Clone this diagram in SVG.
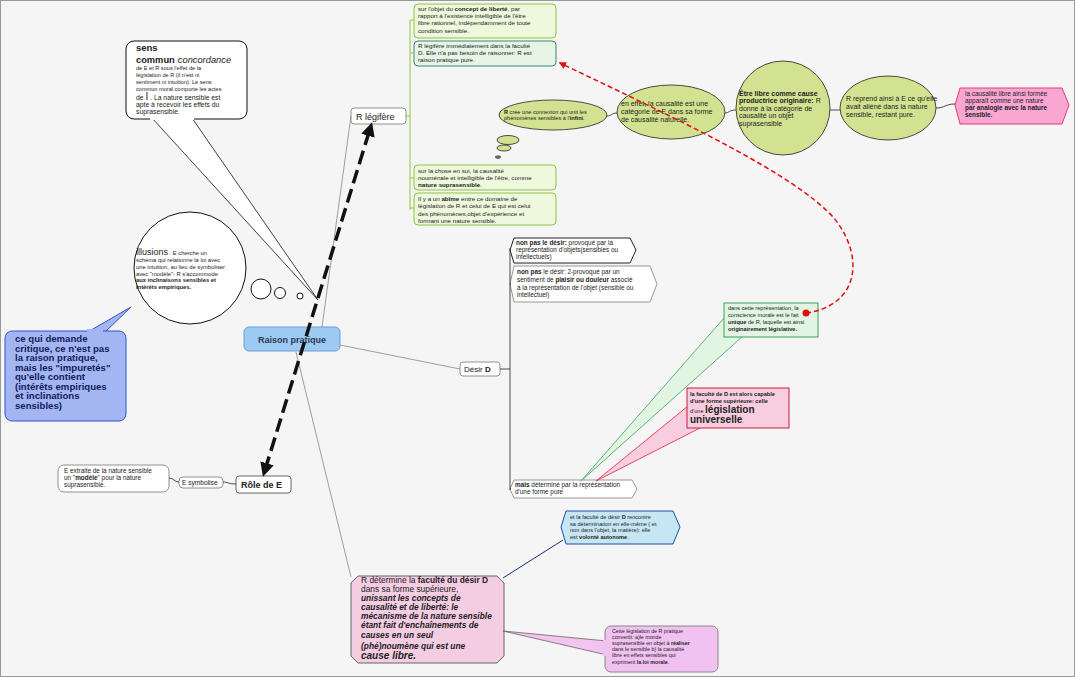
<svg xmlns="http://www.w3.org/2000/svg" width="1075" height="677" viewBox="0 0 1075 677">
<defs>
<style>
text{font-family:"Liberation Sans",Arial,sans-serif;fill:#222}
.b{font-weight:bold}
.i{font-style:italic}
.gbox{fill:#eef8dc;stroke:#8cc63f;stroke-width:1}
.ell{fill:#d3e290;stroke:#222;stroke-width:0.8}
.node{fill:#fff;stroke:#777;stroke-width:0.8}
.ln{fill:none;stroke:#888;stroke-width:0.8}
.blk{fill:none;stroke:#222;stroke-width:0.8}
</style>
<marker id="ah" viewBox="0 0 10 10" refX="5" refY="5" markerWidth="4" markerHeight="4" orient="auto-start-reverse">
<path d="M0,0 L10,5 L0,10 z" fill="#111"/>
</marker>
<marker id="rh" viewBox="0 0 10 10" refX="8" refY="5" markerWidth="5" markerHeight="5" orient="auto">
<path d="M0,0 L10,5 L0,10 z" fill="#e01010"/>
</marker>
</defs>
<rect x="0" y="0" width="1075" height="677" fill="#f5f5f5"/>
<rect x="0.5" y="0.5" width="1074" height="676" fill="none" stroke="#999"/>

<g id="raison-pratique">
<rect x="244" y="327" width="96" height="24" rx="5" fill="#9ccaf2" stroke="#6f9fd0"/>
<text x="292" y="343" text-anchor="middle" font-size="9" class="b" style="fill:#2a3a55">Raison pratique</text>
</g>

<g id="r-legifere">
<rect class="node" x="351" y="108" width="55" height="16" rx="3"/>
<text x="356" y="120" font-size="9">R légifère</text>
</g>

<g id="g-box1">
<rect class="gbox" x="414" y="4" width="142" height="34" rx="4"/>
<text font-size="6.2"><tspan x="418" y="11">sur l'objet du <tspan class="b">concept de liberté</tspan>, par</tspan><tspan x="418" y="18">rapport à l'existence intelligible de l'être</tspan><tspan x="418" y="25">libre rationnel, indépendamment de toute</tspan><tspan x="418" y="33">condition sensible.</tspan></text>
</g>
<g id="g-box2">
<rect x="414" y="41" width="142" height="25" rx="4" fill="#e6f5e6" stroke="#3a8a6a"/>
<text font-size="6.2"><tspan x="418" y="48">R légifère immédiatement dans la faculté</tspan><tspan x="418" y="55">D. Elle n'a pas besoin de raisonner: R est</tspan><tspan x="418" y="62">raison pratique pure.</tspan></text>
</g>
<g id="g-box3">
<rect class="gbox" x="414" y="165" width="142" height="25" rx="4"/>
<text font-size="6.2"><tspan x="418" y="173">sur la chose en soi, la causalité</tspan><tspan x="418" y="180">nouménale et intelligible de l'être, comme</tspan><tspan x="418" y="187"><tspan class="b">nature suprasensible</tspan>.</tspan></text>
</g>
<g id="g-box4">
<rect class="gbox" x="414" y="193" width="142" height="32" rx="4"/>
<text font-size="6.2"><tspan x="418" y="201">Il y a un <tspan class="b">abîme</tspan> entre ce domaine de</tspan><tspan x="418" y="208">législation de R et celui de E qui est celui</tspan><tspan x="418" y="216">des phénomènes,objet d'expérience et</tspan><tspan x="418" y="223">formant une nature sensible.</tspan></text>
</g>

<g id="ell1">
<ellipse class="ell" cx="553" cy="115" rx="54" ry="15"/>
<ellipse class="ell" cx="508" cy="140" rx="11" ry="4.5"/>
<ellipse class="ell" cx="504" cy="148" rx="7" ry="3"/>
<ellipse cx="498" cy="157" rx="3" ry="1.8" fill="#666"/>
<text font-size="5.6"><tspan x="504" y="114"><tspan class="b">R</tspan> crée une connexion qui unit les</tspan><tspan x="504" y="120">phénomènes sensibles à l'<tspan class="b">infini</tspan>.</tspan></text>
</g>
<g id="ell2">
<ellipse class="ell" cx="671" cy="112" rx="54" ry="27"/>
<text font-size="7"><tspan x="621" y="106">en effet, la causalité est une</tspan><tspan x="621" y="114">catégorie de E dans sa forme</tspan><tspan x="621" y="122">de causalité naturelle.</tspan></text>
</g>
<g id="ell3">
<ellipse class="ell" cx="783" cy="108" rx="47" ry="47"/>
<text font-size="7"><tspan x="739" y="96" class="b">Être libre comme cause</tspan><tspan x="739" y="103"><tspan class="b">productrice originaire:</tspan> R</tspan><tspan x="739" y="111">donne à la catégorie de</tspan><tspan x="739" y="118">causalité un objet</tspan><tspan x="739" y="126">suprasensible</tspan></text>
</g>
<g id="ell4">
<ellipse class="ell" cx="888" cy="108" rx="48" ry="32"/>
<text font-size="7"><tspan x="846" y="101">R reprend ainsi à E ce qu'elle</tspan><tspan x="846" y="109">avait aliéné dans la nature</tspan><tspan x="846" y="117">sensible, restant pure.</tspan></text>
</g>
<g id="pink-hex">
<polygon points="960,88 1062,88 1069,105 1062,124 960,124 955,105" fill="#f9a6d2" stroke="#e23c7a"/>
<text font-size="6.4"><tspan x="965" y="96">la causalité libre ainsi formée</tspan><tspan x="965" y="103">apparaît comme une nature</tspan><tspan x="965" y="110" class="b">par analogie avec la nature</tspan><tspan x="965" y="117" class="b">sensible.</tspan></text>
</g>

<g id="sens-commun">
<polygon points="152,118 318,300 192,118" fill="#fff" stroke="#111" stroke-width="0.8"/>
<rect x="126" y="41" width="121" height="78" rx="8" fill="#fff" stroke="#111"/>
<rect x="150" y="116" width="44" height="4" fill="#fff"/>
<text x="136" y="51" font-size="9.5" class="b">sens</text>
<text x="136" y="63" font-size="9.3"><tspan class="b">commun</tspan><tspan font-size="5.5"> :</tspan><tspan class="i">concordance</tspan></text>
<text font-size="5.6"><tspan x="136" y="70">de E et R sous l'effet de la</tspan><tspan x="136" y="77">législation de R (il n'est ni</tspan><tspan x="136" y="84">sentiment ni intuition). Le sens</tspan><tspan x="136" y="91">commun moral comporte les actes</tspan></text>
<text x="136" y="100" font-size="6.8">de <tspan font-size="10">I</tspan> . La nature sensible est</text>
<text font-size="6.8"><tspan x="136" y="107">apte à recevoir les effets du</tspan><tspan x="136" y="114">suprasensible.</tspan></text>
</g>

<g id="illusions">
<circle cx="190" cy="268" r="56" fill="#fff" stroke="#111"/>
<circle cx="261" cy="289" r="10" fill="#fff" stroke="#111"/>
<circle cx="280" cy="293" r="5.5" fill="#fff" stroke="#111"/>
<circle cx="300" cy="296" r="3" fill="#fff" stroke="#111"/>
<text x="136" y="255" font-size="9">illusions<tspan font-size="5.8"> : E cherche un</tspan></text>
<text font-size="5.8"><tspan x="136" y="262">schéma qui relationne la loi avec</tspan><tspan x="136" y="269">une intuition, au lieu de symboliser</tspan><tspan x="136" y="276">avec "modèle"- R s'accommode</tspan><tspan x="136" y="282" class="b">aux inclinaisons sensibles et</tspan><tspan x="136" y="289" class="b">intérêts empiriques.</tspan></text>
</g>

<g id="blue-callout">
<polygon points="86,333 131,307 104,333" fill="#a3b5f2" stroke="#3352c8"/>
<rect x="5" y="331" width="121" height="90" rx="7" fill="#a3b5f2" stroke="#3352c8"/>
<rect x="87" y="329" width="16" height="4" fill="#a3b5f2"/>
<text font-size="9.6" class="b" style="fill:#14205a"><tspan x="15" y="342">ce qui demande</tspan><tspan x="15" y="351.5">critique, ce n'est pas</tspan><tspan x="15" y="361">la raison pratique,</tspan><tspan x="15" y="370.5">mais les "impuretés"</tspan><tspan x="15" y="380">qu'elle contient</tspan><tspan x="15" y="389.5">(intérêts empiriques</tspan><tspan x="15" y="399">et inclinations</tspan><tspan x="15" y="408.5">sensibles)</tspan></text>
</g>

<g id="desir-d">
<rect class="node" x="460" y="362" width="40" height="14" rx="3"/>
<text x="464" y="372" font-size="8">Désir <tspan class="b">D</tspan></text>
</g>
<g id="d-hex1">
<polygon points="514,238 630,238 636,250 630,263 514,263 510,250" fill="#fff" stroke="#222"/>
<text font-size="6.4"><tspan x="516" y="245"><tspan class="b">non pas le désir:</tspan> provoqué par la</tspan><tspan x="516" y="252">représentation d'objets(sensibles ou</tspan><tspan x="516" y="259">intellectuels)</tspan></text>
</g>
<g id="d-hex2">
<polygon points="514,266 650,266 657,284 650,302 514,302 510,284" fill="#fff" stroke="#999"/>
<text font-size="6.4"><tspan x="517" y="274"><tspan class="b">non pas</tspan> le désir: 2-provoqué par un</tspan><tspan x="517" y="282">sentiment de <tspan class="b">plaisir ou douleur</tspan> associé</tspan><tspan x="517" y="290">à la représentation de l'objet (sensible ou</tspan><tspan x="517" y="297">intellectuel)</tspan></text>
</g>
<g id="d-hex3">
<polygon points="514,480 632,480 637,489 632,498 514,498 510,489" fill="#fff" stroke="#999"/>
<text font-size="6.4"><tspan x="515" y="487"><tspan class="b">mais</tspan> déterminé par la représentation</tspan><tspan x="515" y="494">d'une forme pure</tspan></text>
</g>

<g id="green-callout">
<polygon points="724,318 581,481 743,336" fill="#e2f5e2" stroke="#3aa060" stroke-width="0.8"/>
<rect x="724" y="303" width="94" height="34" fill="#e2f5e2" stroke="#3aa060"/>
<text font-size="5.6"><tspan x="728" y="310">dans cette représentation, la</tspan><tspan x="728" y="317">conscience morale est le fait</tspan><tspan x="728" y="324"><tspan class="b">unique</tspan> de R, laquelle est ainsi</tspan><tspan x="728" y="331" class="b">originairement législative.</tspan></text>
</g>
<g id="pink-callout">
<polygon points="688,406 596,481 700,428" fill="#f8cde0" stroke="#e02040" stroke-width="0.8"/>
<rect x="687" y="388" width="102" height="40" fill="#f8cde0" stroke="#d01c3c"/>
<text font-size="5.6" class="b"><tspan x="690" y="396">la faculté de D est alors capable</tspan><tspan x="690" y="403">d'une forme supérieure: celle</tspan></text>
<text x="690" y="413" font-size="5.6">d'une <tspan font-size="10" class="b">législation</tspan></text>
<text x="690" y="423" font-size="10"><tspan class="b">universelle</tspan><tspan font-size="6">.</tspan></text>
</g>

<g id="role-e">
<rect x="236" y="476" width="55" height="17" rx="3" fill="#fff" stroke="#666"/>
<text x="241" y="488" font-size="9" class="b">Rôle de E</text>
</g>
<g id="e-symbolise">
<rect class="node" x="179" y="477" width="44" height="11" rx="4"/>
<text x="182" y="485" font-size="6.6">E symbolise</text>
</g>
<g id="e-extraite">
<rect class="node" x="58" y="465" width="111" height="27" rx="6"/>
<text font-size="6.4"><tspan x="64" y="473">E extraite de la nature sensible</tspan><tspan x="64" y="480">un "<tspan class="b">modèle</tspan>" pour la nature</tspan><tspan x="64" y="487">suprasensible.</tspan></text>
</g>

<g id="blue-hex">
<polygon points="566,511 673,511 680,527 673,544 566,544 561,527" fill="#c6e6f4" stroke="#1f4fa8"/>
<text font-size="5.6"><tspan x="570" y="519">et la faculté de désir <tspan class="b">D</tspan> rencontre</tspan><tspan x="570" y="526">sa détermination en elle-même ( et</tspan><tspan x="570" y="532">non dans l'objet, la matière): elle</tspan><tspan x="570" y="539">est <tspan class="b">volonté autonome</tspan>.</tspan></text>
</g>

<g id="r-determine">
<polygon points="358,576 497,576 504,583 504,656 497,663 358,663 351,656 351,583" fill="#f5cde2" stroke="#666"/>
<text font-size="8.4"><tspan x="361" y="583">R détermine la <tspan class="b">faculté du désir D</tspan></tspan><tspan x="361" y="592">dans sa forme supérieure,</tspan></text>
<text font-size="8.4" class="b i"><tspan x="361" y="601">unissant les concepts de</tspan><tspan x="361" y="610">causalité et de liberté: le</tspan><tspan x="361" y="619">mécanisme de la nature sensible</tspan><tspan x="361" y="628">étant fait d'enchaînements de</tspan><tspan x="361" y="638">causes en un seul</tspan><tspan x="361" y="649">(phé)noumène qui est une</tspan><tspan x="361" y="659" font-size="10">cause libre.</tspan></text>
</g>

<g id="legislation-box">
<polygon points="503,631 607,641 607,655" fill="#f3c4f0" stroke="#666" stroke-width="0.8"/>
<rect x="605" y="626" width="113" height="46" rx="6" fill="#f1c1f1" stroke="#888"/>
<rect x="603" y="640" width="5" height="16" fill="#f1c1f1"/>
<text font-size="5.3"><tspan x="612" y="633">Cette législation de R pratique</tspan><tspan x="612" y="639">convertit: a)le monde</tspan><tspan x="612" y="645">suprasensible en objet à <tspan class="b">réaliser</tspan></tspan><tspan x="612" y="651">dans le sensible b) la causalité</tspan><tspan x="612" y="657">libre en effets sensibles qui</tspan><tspan x="612" y="664">expriment <tspan class="b">la loi morale</tspan>.</tspan></text>
</g>

<g id="connectors">
<path class="ln" d="M322,327 L351,116"/>
<path class="ln" d="M340,345 L460,369"/>
<path class="ln" d="M296,352 L351,577"/>
<path d="M406,116 L410,116 M410,20 L410,210 M410,20 L414,20 M410,53 L414,53 M410,178 L414,178 M410,208 L414,208" fill="none" stroke="#8cc63f" stroke-width="1"/>
<path class="blk" d="M500,369 L510,369 M510,248 L510,490 M510,250 L511,250 M510,284 L511,284 M510,489 L511,489"/>
<path class="blk" d="M607,116 C612,116 611,113 617,113 M725,113 C729,113 729,110 736,110 M830,110 L840,110 M936,108 C945,108 945,104 955,104"/>
<path class="blk" d="M169,478 C174,478 174,482 179,482 M223,482 C228,482 228,484 236,484"/>
<path d="M503,578 L563,540" fill="none" stroke="#1a2a80" stroke-width="1"/>
<path d="M265,470 L370,129" fill="none" stroke="#111" stroke-width="3.5" stroke-dasharray="14,6" marker-start="url(#ah)" marker-end="url(#ah)"/>
<path d="M806,313 C858,306 866,258 834,218 C795,175 690,125 560,63" fill="none" stroke="#e01010" stroke-width="1.5" stroke-dasharray="5,3" marker-end="url(#rh)"/>
<circle cx="806" cy="313" r="3.5" fill="#e01010"/>
</g>
</svg>
